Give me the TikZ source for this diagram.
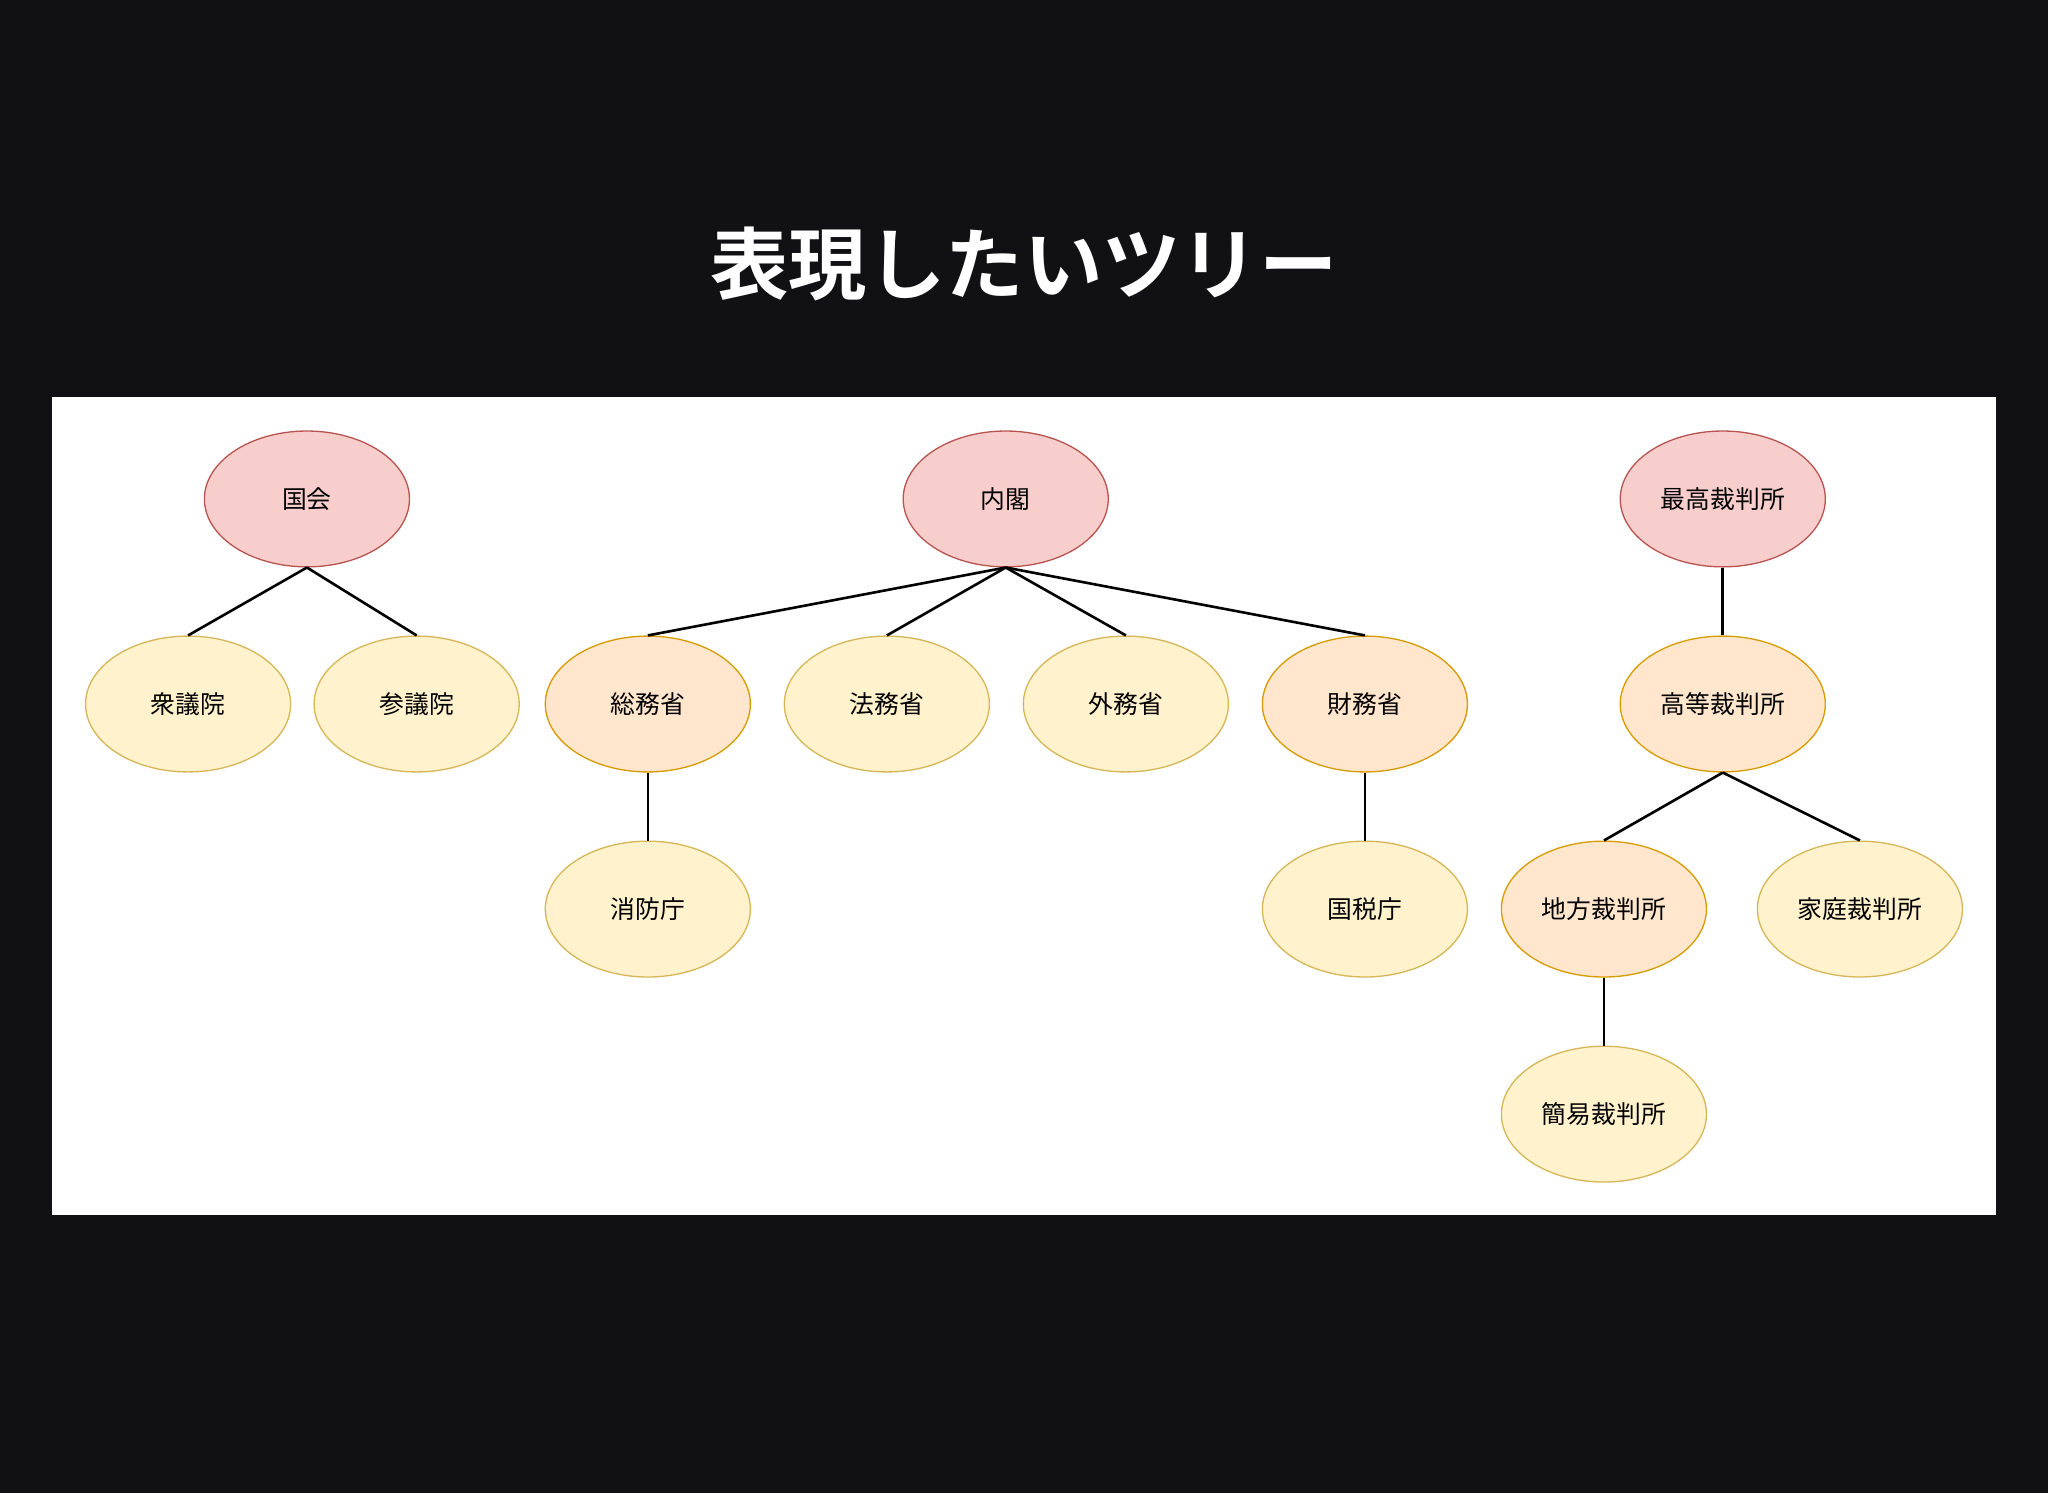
\documentclass[tikz,border=0pt]{standalone}
\usepackage{fontspec}
\newfontfamily\cjk{Noto Sans CJK JP}
\newfontfamily\cjkb{Noto Sans CJK JP Bold}
\usetikzlibrary{shapes.geometric}
\definecolor{bg}{HTML}{111113}
\definecolor{pinkf}{HTML}{F8CECC}\definecolor{pinks}{HTML}{B85450}
\definecolor{yelf}{HTML}{FFF2CC}\definecolor{yels}{HTML}{D6B656}
\definecolor{oraf}{HTML}{FFE6CC}\definecolor{oras}{HTML}{D79B00}
\tikzset{
 base/.style={ellipse,minimum width=157pt,minimum height=104pt,inner sep=0pt,line width=1pt,font=\cjk\fontsize{19}{19}\selectfont,text=black},
 pk/.style={base,draw=pinks,fill=pinkf},
 yl/.style={base,draw=yels,fill=yelf},
 og/.style={base,draw=oras,fill=oraf},
 edge/.style={line width=2pt,black}
}
\begin{document}
\begin{tikzpicture}[x=1pt,y=-1pt]
\fill[bg] (0,0) rectangle (1568,1143);
\useasboundingbox (0,0) rectangle (1568,1143);
\fill[white] (40,304) rectangle (1528,930);
\node[text=white,font=\cjkb\fontsize{60}{60}\selectfont] (title) at (784,202) {表現したいツリー};
\node[pk] (kokkai) at (235,382) {国会};
\node[pk] (naikaku) at (770,382) {内閣};
\node[pk] (saikou) at (1319,382) {最高裁判所};
\node[yl] (shu) at (144,539) {衆議院};
\node[yl] (san) at (319,539) {参議院};
\node[og] (somu) at (496,539) {総務省};
\node[yl] (homu) at (679,539) {法務省};
\node[yl] (gaimu) at (862,539) {外務省};
\node[og] (zaimu) at (1045,539) {財務省};
\node[og] (koto) at (1319,539) {高等裁判所};
\node[yl] (shobo) at (496,696) {消防庁};
\node[yl] (kokuzei) at (1045,696) {国税庁};
\node[og] (chiho) at (1228,696) {地方裁判所};
\node[yl] (katei) at (1424,696) {家庭裁判所};
\node[yl] (kan) at (1228,853) {簡易裁判所};
\foreach \p/\c in {kokkai/shu,kokkai/san,naikaku/somu,naikaku/homu,naikaku/gaimu,naikaku/zaimu,saikou/koto,somu/shobo,zaimu/kokuzei,koto/chiho,koto/katei,chiho/kan}
  \draw[edge] (\p.south) -- (\c.north);
\end{tikzpicture}
\end{document}
